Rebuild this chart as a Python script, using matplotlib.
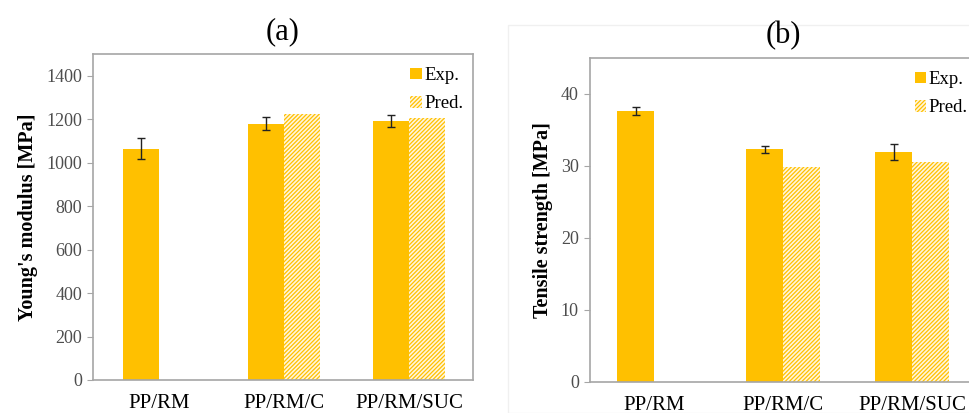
import matplotlib
matplotlib.use('Agg')
import matplotlib.pyplot as plt
from matplotlib.patches import Rectangle, Patch
import numpy as np

plt.rcParams['font.family'] = ['Liberation Serif', 'DejaVu Serif']
plt.rcParams['hatch.linewidth'] = 0.9

groups = ['PP/RM', 'PP/RM/C', 'PP/RM/SUC']

# (a) Young's modulus
ym_exp = [1065, 1180, 1191]
ym_err = [48, 30, 29]
ym_pred = [np.nan, 1223, 1205]

# (b) Tensile strength
ts_exp = [37.7, 32.3, 31.9]
ts_err = [0.55, 0.5, 1.1]
ts_pred = [np.nan, 29.8, 30.5]

gold = '#FFC000'
gray = '#A6A6A6'
W, H = 970, 413


def draw_panel(ax, exp, err, pred, ymax, step, ylabel, title, xlim, width):
    x = np.arange(len(groups))
    ax.bar(x - width / 2, exp, width, color=gold, zorder=2)
    ax.errorbar(x - width / 2, exp, yerr=err, fmt='none', ecolor='#222222',
                elinewidth=1.0, capsize=3, capthick=1.0, zorder=3)
    ax.bar(x + width / 2, pred, width, facecolor='#FFF6DC', edgecolor=gold,
           hatch='////////', linewidth=0, zorder=2)
    ax.set_xlim(*xlim)
    ax.set_ylim(0, ymax)
    ax.set_yticks(np.arange(0, ymax, step))
    ax.set_xticks(x)
    ax.set_xticklabels(groups, fontsize=15)
    ax.tick_params(axis='x', length=0, pad=10)
    ax.tick_params(axis='y', labelsize=13, labelcolor='#4D4D4D', color=gray,
                   length=4, direction='out', pad=4)
    for s in ax.spines.values():
        s.set_color(gray)
        s.set_linewidth(1.2)
    ax.set_ylabel(ylabel, fontsize=14.5, fontweight='bold', labelpad=6)
    handles = [Patch(facecolor=gold, edgecolor='none'),
               Patch(facecolor='#FFF6DC', edgecolor=gold, hatch='////////', linewidth=0)]
    ax.legend(handles, ['Exp.', 'Pred.'], loc='upper right', frameon=False,
              fontsize=13.5, handlelength=0.6, handleheight=0.6, handletextpad=0.15,
              labelspacing=0.6, borderaxespad=0.3, bbox_to_anchor=(1.01, 1.0))
    ax.set_title(title, fontsize=22, pad=11)


fig = plt.figure(figsize=(W / 100, H / 100), dpi=100)

# faint chart-area border around panel (b)
fig.patches.append(Rectangle((508 / W, 0), 1.0, 1 - 25 / H, transform=fig.transFigure,
                             fill=False, edgecolor='#F0F0F0', linewidth=1.0, zorder=-5))

ax1 = fig.add_axes([93 / W, 1 - 380 / H, 380 / W, 326 / H])
draw_panel(ax1, ym_exp, ym_err, ym_pred, 1500, 200, "Young's modulus [MPa]", '(a)',
           (-0.528, 2.51), 0.29)

ax2 = fig.add_axes([590 / W, 1 - 382 / H, 387 / W, 324 / H])
draw_panel(ax2, ts_exp, ts_err, ts_pred, 45, 10, 'Tensile strength [MPa]', '(b)',
           (-0.496, 2.5), 0.287)

fig.savefig('out.png', dpi=100)
